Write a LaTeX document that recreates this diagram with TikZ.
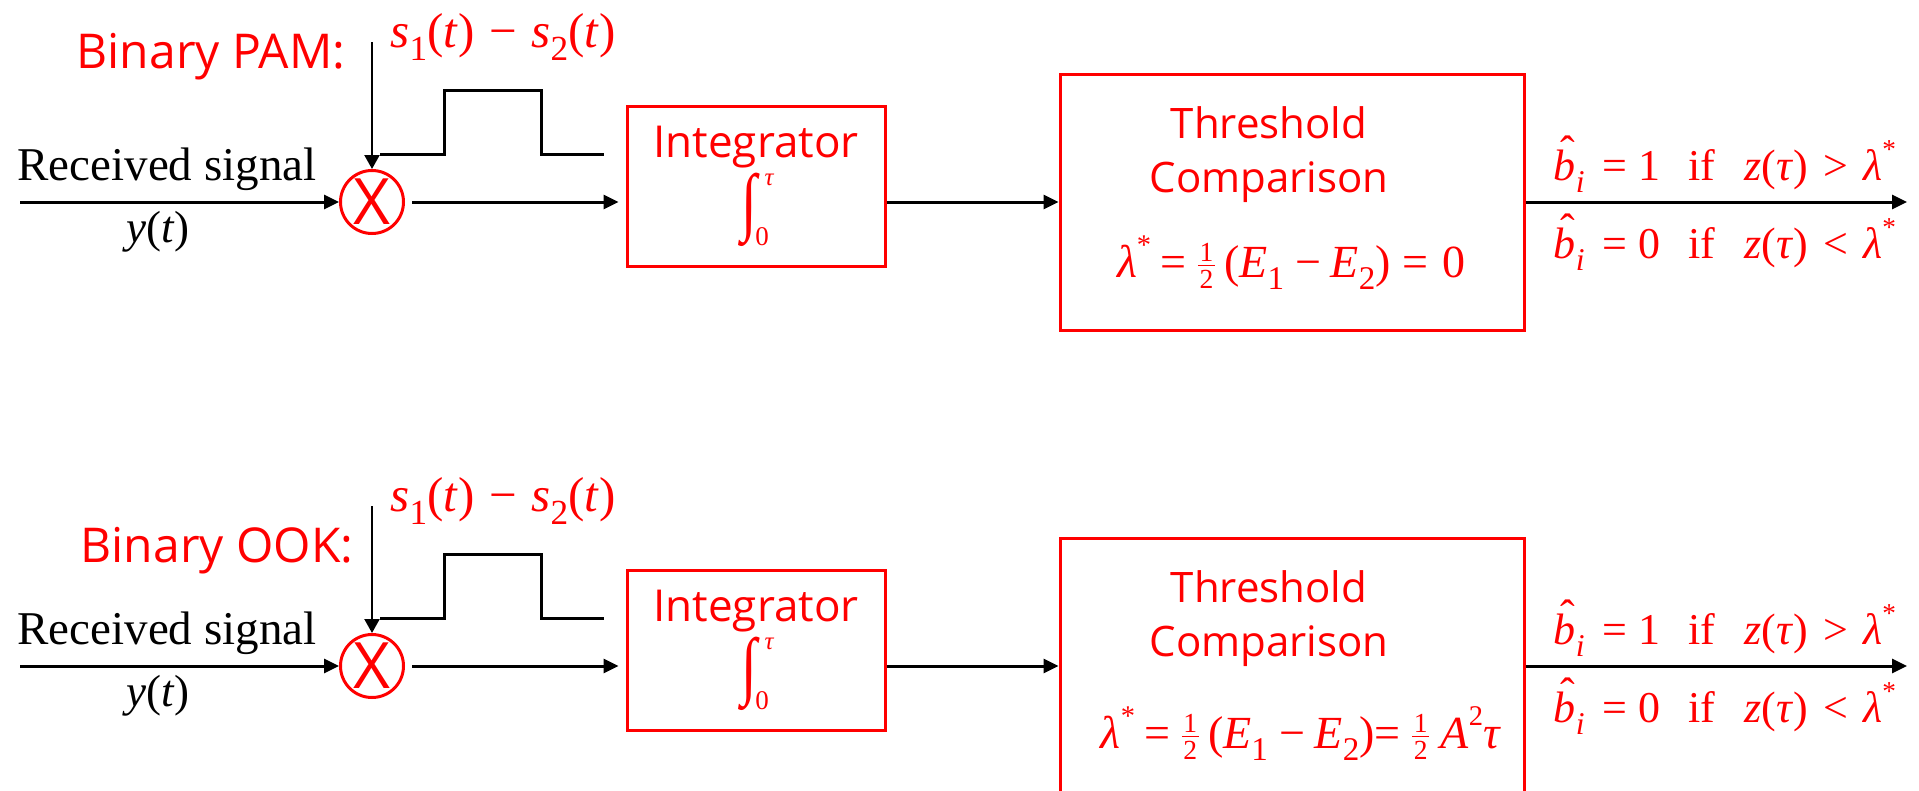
\documentclass[tikz,border=0pt]{standalone}
\usepackage{fontspec}
\setmainfont{Liberation Serif}
\newfontfamily\comic{Open Sans}
\usepackage{graphicx}
\usetikzlibrary{arrows.meta}
\newcommand\lo[1]{\raisebox{-0.28em}{\scalebox{0.72}{#1}}}
\newcommand\hi[1]{\raisebox{0.5em}{\scalebox{0.62}{#1}}}
\newcommand\half{\raisebox{-0.25em}{\scalebox{0.6}{\vbox{\hbox to 0.62em{\hss 1\hss}\kern0.1em\hrule height 0.06em\kern0.14em\hbox to 0.62em{\hss 2\hss}}}}}
\newcommand\hatb{\makebox[0pt][l]{\kern0.14em\raisebox{0.3em}{ˆ}}\textit{b}}
\newcommand\uplbl[1]{\hatb\lo{\textit{i}}\kern0.4em=\kern0.25em#1\kern0.65em if\kern0.65em\textit{z}(\textit{τ})\kern0.35em}
\begin{document}
\begin{tikzpicture}[x=1pt,y=-1pt,
  box/.style={draw=red,line width=3pt,inner sep=0pt},
  mixer/.style={circle,draw=red,line width=3pt,minimum size=63pt,inner sep=0pt,text=red,font=\comic\fontsize{64}{64}\selectfont},
  conn/.style={line width=3pt,-{Triangle[length=15pt,width=14pt]}},
  feed/.style={line width=2.2pt,-{Triangle[length=14pt,width=15pt]}},
  pulse/.style={line width=3pt},
  lbl/.style={inner sep=0pt,anchor=base},
  rm/.style={lbl,font=\fontsize{47}{50}\selectfont},
  rmred/.style={lbl,text=red,font=\fontsize{49}{52}\selectfont},
  mathlbl/.style={lbl,text=red,font=\fontsize{44}{46}\selectfont},
  lamlbl/.style={lbl,text=red,font=\fontsize{46}{48}\selectfont},
  sans/.style={lbl,text=red,font=\comic\fontsize{44}{48}\selectfont},
  sansbig/.style={lbl,text=red,font=\comic\fontsize{48}{50}\selectfont},
  sansthr/.style={lbl,text=red,font=\comic\fontsize{42}{44}\selectfont},
  intsign/.style={text=red,inner sep=0pt,font=\fontsize{44}{44}\selectfont},
  intlim/.style={text=red,inner sep=0pt,font=\fontsize{27}{27}\selectfont}]
\useasboundingbox (0,0) rectangle (1919,790);
\clip (0,0) rectangle (1919,790);

% ---------------- Binary PAM ----------------
\node[mixer] (pm) at (372,202) {X};
\coordinate (pin) at (20,202);
\draw[conn] (pin) -- (pm.west);
\node[rm] (prs) at (167,180) {Received signal};
\node[rm,font=\fontsize{45}{46}\selectfont] (py) at (158,242) {\textit{y}(\textit{t})};
\coordinate (pfeed) at (372,42);
\draw[feed] (pfeed) -- (pm.north);
\node[rmred] (ps) at (503,47) {\textit{s}\lo{1}(\textit{t})\kern0.3em−\kern0.3em\textit{s}\lo{2}(\textit{t})};
\node[sansbig] (plab) at (211,68) {Binary PAM:};
\draw[pulse] (380,154) -- (444,154) -- (444,90) -- (541,90) -- (541,154) -- (604,154);
\node[box,minimum width=258pt,minimum height=160pt] (pint) at (756,186) {};
\node[sans] (pintt) at (756,157) {Integrator};
\node[intsign] (pintg) at (749,210) {\scalebox{1.3}[1.7]{∫}};
\node[intlim,font=\fontsize{25}{25}\selectfont\itshape] (pintu) at (769,180) {τ};
\node[intlim] (pintl) at (762,237) {0};
\draw[conn,shorten <=7pt,shorten >=7pt] (pm.east) -- (pm.east -| pint.west);
\node[box,minimum width=464pt,minimum height=256pt] (pthr) at (1292,202) {};
\node[sansthr] (pthrt) at (1269,138) {Threshold};
\node[sansthr] (pthrc) at (1269,192) {Comparison};
\node[lamlbl] (plam) at (1291,277) {\textit{λ}\hi{*}\kern0.2em=\kern0.25em\half\kern0.2em(\textit{E}\lo{1}\kern0.25em−\kern0.2em\textit{E}\lo{2})\kern0.25em=\kern0.3em0};
\draw[conn] (pint.east |- pm) -- (pthr.west |- pm);
\coordinate (pout) at (1907,202);
\draw[conn] (pthr.east |- pm) -- (pout);
\node[mathlbl] (pup) at (1725,180) {\uplbl{1}>\kern0.35em\textit{λ}\hi{*}};
\node[mathlbl] (pdn) at (1725,258) {\uplbl{0}<\kern0.35em\textit{λ}\hi{*}};

% ---------------- Binary OOK ----------------
\begin{scope}[shift={(0,464)}]
\node[mixer] (om) at (372,202) {X};
\coordinate (oin) at (20,202);
\draw[conn] (oin) -- (om.west);
\node[rm] (ors) at (167,180) {Received signal};
\node[rm,font=\fontsize{45}{46}\selectfont] (oy) at (158,242) {\textit{y}(\textit{t})};
\coordinate (ofeed) at (372,42);
\draw[feed] (ofeed) -- (om.north);
\node[rmred] (os) at (503,47) {\textit{s}\lo{1}(\textit{t})\kern0.3em−\kern0.3em\textit{s}\lo{2}(\textit{t})};
\node[sansbig] (olab) at (217,98) {Binary OOK:};
\draw[pulse] (380,154) -- (444,154) -- (444,90) -- (541,90) -- (541,154) -- (604,154);
\node[box,minimum width=258pt,minimum height=160pt] (oint) at (756,186) {};
\node[sans] (ointt) at (756,157) {Integrator};
\node[intsign] (ointg) at (749,210) {\scalebox{1.3}[1.7]{∫}};
\node[intlim,font=\fontsize{25}{25}\selectfont\itshape] (ointu) at (769,180) {τ};
\node[intlim] (ointl) at (762,237) {0};
\draw[conn,shorten <=7pt,shorten >=7pt] (om.east) -- (om.east -| oint.west);
\node[box,minimum width=464pt,minimum height=256pt] (othr) at (1292,202) {};
\node[sansthr] (othrt) at (1269,138) {Threshold};
\node[sansthr] (othrc) at (1269,192) {Comparison};
\node[lamlbl] (olam) at (1301,284) {\textit{λ}\hi{*}\kern0.2em=\kern0.25em\half\kern0.2em(\textit{E}\lo{1}\kern0.25em−\kern0.2em\textit{E}\lo{2})=\kern0.25em\half\kern0.25em\textit{A}\hi{2}\textit{τ}};
\draw[conn] (oint.east |- om) -- (othr.west |- om);
\coordinate (oout) at (1907,202);
\draw[conn] (othr.east |- om) -- (oout);
\node[mathlbl] (oup) at (1725,180) {\uplbl{1}>\kern0.35em\textit{λ}\hi{*}};
\node[mathlbl] (odn) at (1725,258) {\uplbl{0}<\kern0.35em\textit{λ}\hi{*}};
\end{scope}
\end{tikzpicture}
\end{document}
